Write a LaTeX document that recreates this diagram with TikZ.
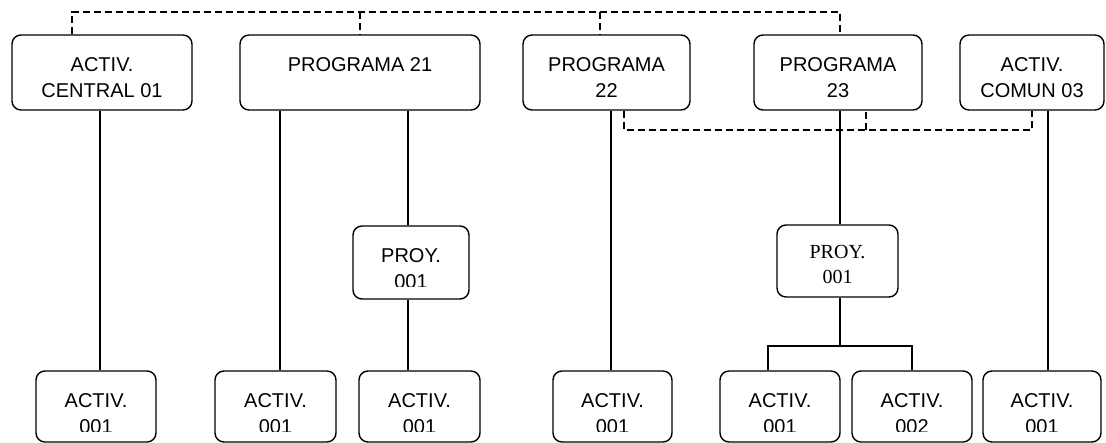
\documentclass[tikz,border=0pt]{standalone}
\usepackage{fontspec}
\setmainfont{Liberation Sans}
\newfontfamily\serifrm{Liberation Serif}
\tikzset{
  box/.style={draw, line width=1.4pt, rounded corners=9pt, inner sep=0pt},
  lbl/.style={inner sep=0pt, anchor=north, align=center, font=\fontsize{20}{26}\selectfont},
  slbl/.style={inner sep=0pt, anchor=north, align=center, font=\serifrm\fontsize{20}{25}\selectfont},
  conn/.style={line width=1.4pt},
  dconn/.style={line width=1.4pt, dash pattern=on 7pt off 4pt},
}
\newcommand\cliplbl[4]{%
  \begin{scope}
    \clip (#1.north west) rectangle ([yshift=#2]#1.south east);
    \node[lbl] (#1t) at ([yshift=-23pt]#1.north) {#3\\#4};
  \end{scope}}
\begin{document}
\begin{tikzpicture}[x=1pt,y=-1pt]
\useasboundingbox (0,0) rectangle (1106,443);
% top row
\node[box, minimum width=180pt, minimum height=75pt] (ac) at (102,72.5) {};
\node[box, minimum width=240pt, minimum height=75pt] (p21) at (360,72.5) {};
\node[box, minimum width=167pt, minimum height=75pt] (p22) at (606.5,72.5) {};
\node[box, minimum width=168pt, minimum height=75pt] (p23) at (838,72.5) {};
\node[box, minimum width=144pt, minimum height=75pt] (cm) at (1032,72.5) {};
\node[lbl] (act) at ([yshift=-23pt]ac.north) {ACTIV.\\CENTRAL 01};
\node[lbl] (p21t) at ([yshift=-23pt]p21.north) {PROGRAMA 21};
\node[lbl] (p22t) at ([yshift=-23pt]p22.north) {PROGRAMA\\22};
\node[lbl] (p23t) at ([yshift=-23pt]p23.north) {PROGRAMA\\23};
\node[lbl] (cmt) at ([yshift=-23pt]cm.north) {ACTIV.\\COMUN 03};
% middle row
\node[box, minimum width=116pt, minimum height=73pt] (pl) at (411,262.5) {};
\node[box, minimum width=121pt, minimum height=72pt] (pr) at (837.5,261) {};
\cliplbl{pl}{13.5pt}{PROY.}{001}
\node[slbl] (prt) at ([yshift=-21pt]pr.north) {PROY.\\001};
% bottom row
\node[box, minimum width=120pt, minimum height=71pt] (b1) at (96,406.5) {};
\node[box, minimum width=121pt, minimum height=71pt] (b2) at (275.5,406.5) {};
\node[box, minimum width=121pt, minimum height=71pt] (b3) at (419.5,406.5) {};
\node[box, minimum width=119pt, minimum height=71pt] (b4) at (612.5,406.5) {};
\node[box, minimum width=120pt, minimum height=71pt] (b5) at (780,406.5) {};
\node[box, minimum width=120pt, minimum height=71pt] (b6) at (912,406.5) {};
\node[box, minimum width=118pt, minimum height=71pt] (b7) at (1042,406.5) {};
\cliplbl{b1}{11.5pt}{ACTIV.}{001}
\cliplbl{b2}{11.5pt}{ACTIV.}{001}
\cliplbl{b3}{11.5pt}{ACTIV.}{001}
\cliplbl{b4}{11.5pt}{ACTIV.}{001}
\cliplbl{b5}{11.5pt}{ACTIV.}{001}
\cliplbl{b6}{11.5pt}{ACTIV.}{002}
\cliplbl{b7}{11.5pt}{ACTIV.}{001}
% coordinates
\coordinate (x1) at (100,0);
\coordinate (x2) at (280,0);
\coordinate (x3) at (408,0);
\coordinate (x4) at (611,0);
\coordinate (x5) at (840,0);
\coordinate (x6) at (1048,0);
\coordinate (br) at (840,346);
\coordinate (brl) at (768,346);
\coordinate (brr) at (912,346);
\coordinate (dt1) at (72,12);
\coordinate (dt2) at (360,12);
\coordinate (dt3) at (600,12);
\coordinate (dt4) at (840,12);
\coordinate (db1) at (624,130);
\coordinate (db2) at (1032,130);
\coordinate (db3) at (866,130);
% solid connectors
\draw[conn] (ac.south -| x1) -- (b1.north -| x1);
\draw[conn] (p21.south -| x2) -- (b2.north -| x2);
\draw[conn] (p21.south -| x3) -- (pl.north -| x3);
\draw[conn] (pl.south -| x3) -- (b3.north -| x3);
\draw[conn] (p22.south -| x4) -- (b4.north -| x4);
\draw[conn] (p23.south -| x5) -- (pr.north -| x5);
\draw[conn] (pr.south -| br) -- (br);
\draw[conn] (b5.north -| brl) -- (brl) -- (brr) -- (b6.north -| brr);
\draw[conn] (cm.south -| x6) -- (b7.north -| x6);
% dashed connectors
\draw[dconn] (ac.north -| dt1) -- (dt1) -- (dt4) -- (p23.north -| dt4);
\draw[dconn] (dt2) -- (p21.north -| dt2);
\draw[dconn] (dt3) -- (p22.north -| dt3);
\draw[dconn] (p22.south -| db1) -- (db1) -- (db2) -- (cm.south -| db2);
\draw[dconn] (db3) -- (p23.south -| db3);
\end{tikzpicture}
\end{document}
